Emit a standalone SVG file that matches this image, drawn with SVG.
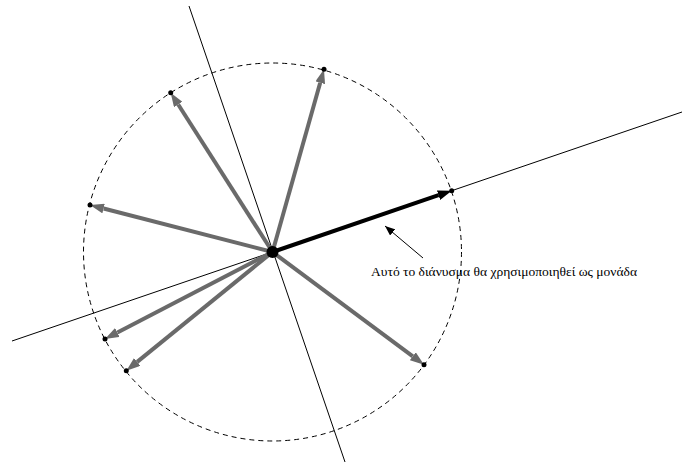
<svg xmlns="http://www.w3.org/2000/svg" width="691" height="464" viewBox="0 0 691 464">
<style>
.axis{stroke:#000;stroke-width:1;fill:none}
.vec{stroke:#6a6a6a;stroke-width:4;fill:none;marker-end:url(#ga)}
.unit{stroke:#000;stroke-width:4;fill:none;marker-end:url(#ba)}
.pt{fill:#000}
.lbl{font-family:"Liberation Serif","Times New Roman",serif;font-size:13px;fill:#000}
</style>
<defs>
<marker id="ga" markerUnits="userSpaceOnUse" viewBox="0 0 14 10" refX="0" refY="5" markerWidth="14" markerHeight="10" orient="auto"><path d="M0,0 L14,5 L0,10 z" fill="#6a6a6a"/></marker>
<marker id="ba" markerUnits="userSpaceOnUse" viewBox="0 0 14 10" refX="0" refY="5" markerWidth="14" markerHeight="10" orient="auto"><path d="M0,0 L14,5 L0,10 z" fill="#000"/></marker>
<marker id="sa" markerUnits="userSpaceOnUse" viewBox="0 0 10 8" refX="10" refY="4" markerWidth="10" markerHeight="8" orient="auto"><path d="M0,0 L10,4 L0,8 z" fill="#000"/></marker>
</defs>
<g id="circle"><circle cx="272.5" cy="252" r="189" fill="none" stroke="#000" stroke-width="1" stroke-dasharray="5,4"/></g>
<g id="axes">
<line class="axis" x1="12" y1="341" x2="682" y2="112"/>
<line class="axis" x1="189" y1="6" x2="345" y2="462"/>
</g>
<g id="connectors">
<line class="vec" x1="272.5" y1="252" x2="320.2" y2="82.8"/>
<line class="vec" x1="272.5" y1="252" x2="178.2" y2="104.5"/>
<line class="vec" x1="272.5" y1="252" x2="103.6" y2="208.5"/>
<line class="vec" x1="272.5" y1="252" x2="117.4" y2="332.5"/>
<line class="vec" x1="272.5" y1="252" x2="137.2" y2="361.9"/>
<line class="vec" x1="272.5" y1="252" x2="412.8" y2="356.3"/>
<line class="unit" x1="272.5" y1="252" x2="438.5" y2="195.2"/>
<line x1="423" y1="258" x2="385" y2="226" stroke="#000" stroke-width="1" marker-end="url(#sa)"/>
</g>
<g id="points">
<circle class="pt" cx="272.5" cy="252" r="6"/>
<circle class="pt" cx="324" cy="69.3" r="2.5"/>
<circle class="pt" cx="170.7" cy="92.7" r="2.5"/>
<circle class="pt" cx="90" cy="205" r="2.5"/>
<circle class="pt" cx="105" cy="339" r="2.5"/>
<circle class="pt" cx="126.3" cy="370.7" r="2.5"/>
<circle class="pt" cx="424" cy="364.7" r="2.5"/>
<circle class="pt" cx="451.7" cy="190.7" r="2.5"/>
</g>
<g id="label"><text class="lbl" x="371" y="275.5" textLength="266" lengthAdjust="spacingAndGlyphs">Αυτό το διάνυσμα θα χρησιμοποιηθεί ως μονάδα</text></g>
</svg>
